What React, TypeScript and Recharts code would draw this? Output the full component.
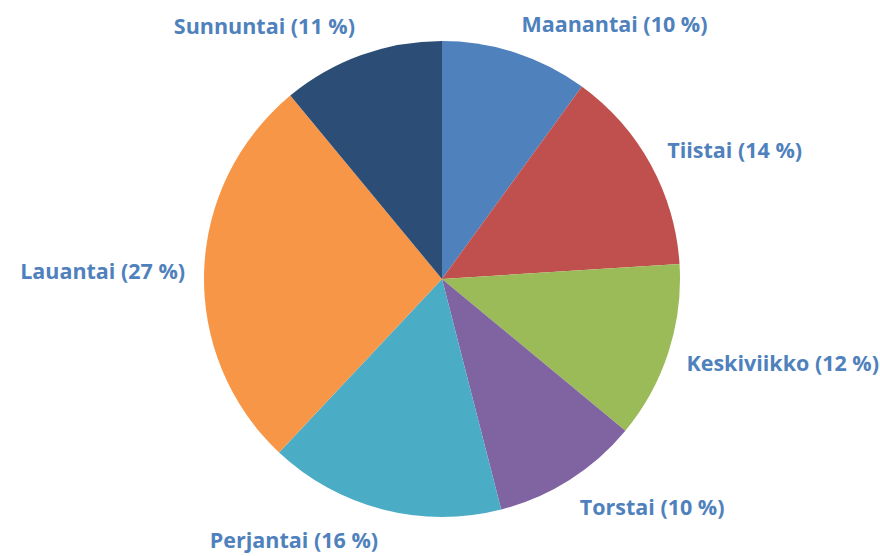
import { PieChart, Pie, Cell } from 'recharts';

const days = ['Maanantai', 'Tiistai', 'Keskiviikko', 'Torstai', 'Perjantai', 'Lauantai', 'Sunnuntai'];
const shares = [10, 14, 12, 10, 16, 27, 11];
const colors = ['#4F81BD', '#C0504D', '#9BBB59', '#8064A2', '#4BACC6', '#F79646', '#2C4D75'];

const data = days.map((name, i) => ({ name, value: shares[i] }));

const RAD = Math.PI / 180;

// label box touches a point just outside the slice, pushed away from the pie
const renderLabel = (props: any) => {
  const { cx, cy, midAngle, outerRadius, index } = props;
  const r = outerRadius + 19;
  const cos = Math.cos(-midAngle * RAD);
  const sin = Math.sin(-midAngle * RAD);
  const x = cx + r * cos;
  const y = cy + r * sin + sin * 12;
  return (
    <text
      x={x}
      y={y}
      textAnchor={cos >= 0 ? 'start' : 'end'}
      dominantBaseline="central"
      fill="#4F81BD"
      fontFamily="'Open Sans', sans-serif"
      fontWeight="bold"
      fontSize={21.5}
    >
      {`${days[index]} (${shares[index]} %)`}
    </text>
  );
};

export default function App() {
  return (
    <div style={{ position: 'absolute', left: 0, top: 0, width: 880, height: 556, background: '#fff' }}>
      <PieChart width={880} height={556} margin={{ top: 0, right: 0, bottom: 0, left: 0 }}>
        <Pie
          data={data}
          dataKey="value"
          nameKey="name"
          cx={442}
          cy={279}
          outerRadius={238}
          startAngle={90}
          endAngle={-270}
          stroke="none"
          label={renderLabel}
          labelLine={false}
          isAnimationActive={false}
        >
          {data.map((d, i) => (
            <Cell key={d.name} fill={colors[i]} />
          ))}
        </Pie>
      </PieChart>
    </div>
  );
}
